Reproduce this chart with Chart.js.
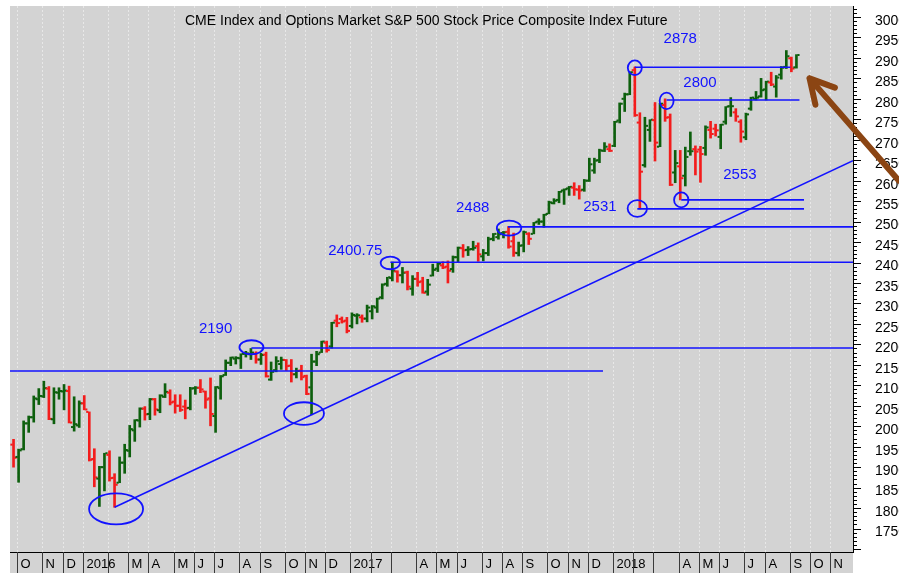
<!DOCTYPE html>
<html>
<head>
  <title>S&amp;P 500 Index Future - weekly</title>
  <script src="https://cdn.jsdelivr.net/npm/chart.js"></script>
  <style>
    body {
      margin: 0;
      padding: 0;
      background: #fff;
      overflow: hidden;
    }
    #wrap {
      width: 899px;
      height: 573px;
    }
  </style>
</head>
<body>
  <div id="wrap"><canvas id="chart" width="899" height="573"></canvas></div>
  <script>
    // weekly bars, first bar = week ending 25 Sep 2015, last = 14 Sep 2018
    const opens = [
      1955, 1925, 1944, 2007, 2022, 2066, 2073, 2092, 2017, 2082,
      2085, 2086, 1998, 2002, 2056, 2035, 1920, 1872, 1900, 1930,
      1874, 1862, 1911, 1940, 1990, 2014, 2043, 2030, 2066, 2039,
      2072, 2082, 2060, 2050, 2048, 2045, 2093, 2094, 2085, 2068,
      2025, 2093, 2125, 2155, 2165, 2166, 2177, 2176, 2177, 2163,
      2175, 2114, 2137, 2152, 2162, 2148, 2127, 2136, 2123, 2095,
      2158, 2180, 2204, 2195, 2258, 2262, 2258, 2245, 2270, 2266,
      2263, 2281, 2290, 2315, 2348, 2362, 2378, 2369, 2376, 2336,
      2360, 2354, 2329, 2368, 2385, 2393, 2390, 2384, 2413, 2435,
      2431, 2433, 2440, 2415, 2423, 2458, 2462, 2472, 2475, 2452,
      2423, 2442, 2470, 2470, 2500, 2500, 2519, 2545, 2553, 2576,
      2581, 2583, 2578, 2578, 2600, 2625, 2650, 2673, 2677, 2685,
      2747, 2800, 2811, 2870, 2742, 2638, 2724, 2748, 2683, 2785,
      2755, 2620, 2635, 2612, 2672, 2677, 2676, 2680, 2724, 2727,
      2707, 2744, 2782, 2767, 2744, 2706, 2776, 2800, 2806, 2823,
      2840, 2830, 2859, 2878, 2899, 2877
    ];
    const highs = [
      1968, 1944, 2013, 2025, 2074, 2092, 2110, 2097, 2094, 2094,
      2102, 2098, 2072, 2062, 2075, 2035, 1945, 1902, 1934, 1940,
      1884, 1925, 1956, 2002, 2016, 2045, 2048, 2068, 2068, 2077,
      2104, 2089, 2077, 2077, 2064, 2095, 2097, 2114, 2086, 2118,
      2097, 2124, 2162, 2169, 2170, 2177, 2183, 2190, 2182, 2178,
      2181, 2157, 2170, 2169, 2163, 2163, 2142, 2149, 2125, 2176,
      2183, 2208, 2208, 2254, 2272, 2267, 2266, 2277, 2275, 2272,
      2296, 2295, 2313, 2348, 2364, 2401, 2380, 2388, 2379, 2368,
      2376, 2364, 2359, 2396, 2399, 2402, 2404, 2416, 2438, 2444,
      2439, 2452, 2448, 2432, 2462, 2471, 2482, 2476, 2488, 2472,
      2450, 2477, 2473, 2498, 2507, 2518, 2550, 2556, 2574, 2580,
      2586, 2595, 2588, 2603, 2655, 2655, 2677, 2693, 2690, 2745,
      2790, 2814, 2866, 2878, 2766, 2755, 2749, 2791, 2789, 2800,
      2763, 2674, 2674, 2682, 2719, 2685, 2684, 2734, 2745, 2738,
      2738, 2781, 2803, 2776, 2749, 2765, 2804, 2818, 2850, 2843,
      2865, 2857, 2879, 2918, 2902, 2908
    ];
    const lows = [
      1900, 1863, 1942, 1985, 2010, 2053, 2070, 2016, 2006, 2066,
      2040, 2008, 1988, 1997, 2040, 1915, 1852, 1804, 1842, 1866,
      1802, 1862, 1885, 1925, 1963, 1998, 2015, 2016, 2027, 2033,
      2070, 2052, 2032, 2036, 2018, 2040, 2078, 2082, 2044, 2001,
      1985, 2066, 2124, 2148, 2152, 2141, 2169, 2163, 2154, 2151,
      2120, 2112, 2133, 2139, 2136, 2108, 2118, 2113, 2077, 2028,
      2148, 2180, 2181, 2191, 2243, 2252, 2228, 2240, 2250, 2254,
      2255, 2262, 2278, 2311, 2342, 2355, 2352, 2350, 2333, 2320,
      2342, 2325, 2320, 2367, 2378, 2385, 2350, 2376, 2400, 2413,
      2417, 2430, 2403, 2404, 2417, 2453, 2457, 2460, 2435, 2415,
      2416, 2426, 2444, 2470, 2493, 2486, 2519, 2543, 2546, 2542,
      2564, 2564, 2555, 2574, 2598, 2618, 2644, 2671, 2671, 2683,
      2741, 2769, 2810, 2757, 2531, 2633, 2696, 2648, 2683, 2745,
      2588, 2595, 2553, 2587, 2662, 2614, 2596, 2662, 2704, 2709,
      2678, 2738, 2757, 2745, 2694, 2700, 2772, 2797, 2804, 2797,
      2832, 2804, 2848, 2874, 2866, 2875
    ];
    const closes = [
      1923, 1941, 2007, 2022, 2068, 2074, 2093, 2018, 2083, 2086,
      2087, 2009, 2005, 2056, 2041, 1918, 1875, 1900, 1934, 1873,
      1857, 1911, 1942, 1993, 2015, 2043, 2029, 2066, 2041, 2075,
      2084, 2058, 2050, 2040, 2044, 2092, 2094, 2090, 2065, 2030,
      2096, 2122, 2155, 2168, 2167, 2177, 2178, 2180, 2163, 2174,
      2122, 2133, 2159, 2162, 2147, 2127, 2135, 2120, 2079, 2158,
      2176, 2207, 2186, 2253, 2252, 2256, 2233, 2272, 2271, 2263,
      2290, 2293, 2312, 2346, 2364, 2380, 2369, 2375, 2341, 2360,
      2352, 2326, 2346, 2382, 2397, 2388, 2380, 2413, 2436, 2430,
      2432, 2436, 2420, 2423, 2457, 2470, 2469, 2474, 2439, 2424,
      2441, 2474, 2458, 2498, 2500, 2517, 2547, 2551, 2573, 2579,
      2585, 2579, 2576, 2600, 2640, 2649, 2674, 2683, 2673, 2744,
      2788, 2811, 2865, 2760, 2622, 2734, 2749, 2693, 2788, 2754,
      2590, 2643, 2606, 2658, 2672, 2671, 2665, 2730, 2714, 2723,
      2737, 2781, 2782, 2757, 2720, 2762, 2803, 2803, 2821, 2842,
      2835, 2852, 2876, 2904, 2874, 2907
    ];

    // first bar of each month (bar index) and its label
    const monthStart = [1, 6, 10, 14, 19, 23, 27, 32, 36, 40, 45, 49, 54, 58, 62,
      67, 71, 75, 80, 84, 88, 93, 97, 101, 106, 110, 114,
      119, 123, 127, 132, 136, 140, 145, 149, 154, 158, 162];
    const monthLabels = ['O', 'N', 'D', '2016', '', 'M', 'A', 'M', 'J', 'J', 'A', 'S', 'O', 'N', 'D',
      '2017', '', '', 'A', 'M', 'J', 'J', 'A', 'S', 'O', 'N', 'D',
      '2018', '', '', 'A', 'M', 'J', 'J', 'A', 'S', 'O', 'N'];
    const yTickValues = [1750, 1800, 1850, 1900, 1950, 2000, 2050, 2100, 2150, 2200, 2250, 2300, 2350,
      2400, 2450, 2500, 2550, 2600, 2650, 2700, 2750, 2800, 2850, 2900, 2950, 3000];

    // hand drawn notes on the chart
    const levelValues = [2135, 2191, 2400.75, 2487, 2877, 2797, 2553, 2531];
    const levelFrom = [-0.7, 47.1, 74.6, 97.9, 123, 129.3, 132.2, 123.5];
    const levelTo = [116.7, 166.2, 166.2, 166.2, 153.8, 155.6, 156.5, 156.5];
    const trendX = [20, 166.2];
    const trendY = [1802, 2649];
    const ringX = [20.3, 57.5, 47.1, 74.6, 98.1, 123, 129.3, 132.2, 123.5];
    const ringY = [1798, 2031, 2193, 2399, 2484, 2876, 2795, 2553, 2532];
    const noteText = ['2878', '2800', '2553', '2531', '2488', '2400.75', '2190'];
    const noteX = [128.7, 132.6, 140.5, 112.8, 87.6, 62.3, 36.7];
    const noteY = [2946, 2839, 2615, 2537, 2534, 2429, 2239];
    const arrowTip = [157.6, 2850];
    const arrowTail = [175.3, 2600];

    const TITLE = 'CME Index and Options Market S&P 500 Stock Price Composite Index Future';
    const GREEN = '#0d5f0d';
    const RED = '#f31c1c';
    const BLUE = '#1212ff';
    const BROWN = '#8b4513';
    const FONT = '"Liberation Sans", Arial, sans-serif';
    const ringW = [27, 20, 12, 9.7, 12.2, 7, 7, 7.2, 9.7];
    const ringH = [15.5, 11.3, 7, 6.3, 7.5, 7.3, 8.3, 7.5, 8.3];

    const idx = opens.map((o, i) => i);
    const barColors = idx.map(i => closes[i] >= opens[i] ? GREEN : RED);

    const levelSets = levelValues.map((v, k) => ({
      type: 'line',
      data: [{ x: levelFrom[k], y: v }, { x: levelTo[k], y: v }],
      borderColor: BLUE,
      borderWidth: 1.6,
      pointRadius: 0,
      fill: false
    }));

    const frame = {
      id: 'frame',
      beforeDraw(chart) {
        const { ctx, chartArea: a, scales: { x } } = chart;
        ctx.save();
        ctx.fillStyle = '#ffffff';
        ctx.fillRect(0, 0, chart.width, chart.height);
        ctx.fillStyle = '#d3d3d3';
        ctx.fillRect(a.left, a.top, a.right - a.left, chart.height - a.top);
        // dotted month grid
        ctx.strokeStyle = '#e8e8e8';
        ctx.lineWidth = 1;
        ctx.setLineDash([2, 2]);
        monthStart.forEach(m => {
          const px = Math.round(x.getPixelForValue(m - 0.3)) + 0.5;
          ctx.beginPath();
          ctx.moveTo(px, a.top);
          ctx.lineTo(px, a.bottom);
          ctx.stroke();
        });
        ctx.setLineDash([]);
        ctx.fillStyle = '#000';
        ctx.font = '14px ' + FONT;
        ctx.textBaseline = 'middle';
        ctx.fillText(TITLE, 185, 21);
        ctx.restore();
      },
      afterDatasetsDraw(chart) {
        const { ctx, chartArea: a, scales: { x, y } } = chart;
        ctx.save();
        ctx.beginPath();
        ctx.rect(a.left, a.top, a.right - a.left, a.bottom - a.top);
        ctx.clip();
        ctx.strokeStyle = BLUE;
        ctx.lineWidth = 1.8;
        ringX.forEach((rx, k) => {
          ctx.beginPath();
          ctx.ellipse(x.getPixelForValue(rx), y.getPixelForValue(ringY[k]), ringW[k], ringH[k], 0, 0, Math.PI * 2);
          ctx.stroke();
        });
        ctx.fillStyle = BLUE;
        ctx.font = '15px ' + FONT;
        ctx.textBaseline = 'middle';
        noteText.forEach((t, k) => {
          ctx.fillText(t, x.getPixelForValue(noteX[k]), y.getPixelForValue(noteY[k]));
        });
        ctx.restore();
      },
      afterDraw(chart) {
        const { ctx, chartArea: a, scales: { x, y } } = chart;
        ctx.save();
        // right price axis
        ctx.strokeStyle = '#000';
        ctx.lineWidth = 1;
        ctx.beginPath();
        ctx.moveTo(a.right + 0.5, a.top);
        ctx.lineTo(a.right + 0.5, a.bottom + 1);
        for (let v = 1700; v <= 3020; v += 10) {
          const py = Math.round(y.getPixelForValue(v)) + 0.5;
          ctx.moveTo(a.right, py);
          ctx.lineTo(a.right + (v % 50 === 0 ? 8 : 4), py);
        }
        ctx.stroke();
        ctx.fillStyle = '#000';
        ctx.font = '14px ' + FONT;
        ctx.textBaseline = 'middle';
        yTickValues.forEach(v => {
          ctx.fillText(String(v), a.right + 22, y.getPixelForValue(v) + 4);
        });
        // month strip under the plot
        ctx.beginPath();
        ctx.moveTo(a.left, a.bottom + 0.5);
        ctx.lineTo(a.right, a.bottom + 0.5);
        ctx.stroke();
        ctx.strokeStyle = '#3a3a3a';
        ctx.font = '13px ' + FONT;
        monthStart.forEach((m, k) => {
          const px = Math.round(x.getPixelForValue(m - 0.3)) + 0.5;
          ctx.beginPath();
          ctx.moveTo(px, a.bottom);
          ctx.lineTo(px, chart.height);
          ctx.stroke();
          if (monthLabels[k]) ctx.fillText(monthLabels[k], px + 3, a.bottom + 12);
        });
        // brown arrow
        const tx = x.getPixelForValue(arrowTip[0]), ty = y.getPixelForValue(arrowTip[1]);
        const ex = x.getPixelForValue(arrowTail[0]), ey = y.getPixelForValue(arrowTail[1]);
        const ang = Math.atan2(ey - ty, ex - tx);
        ctx.strokeStyle = BROWN;
        ctx.lineWidth = 6;
        ctx.lineCap = 'round';
        ctx.lineJoin = 'round';
        ctx.beginPath();
        ctx.moveTo(ex, ey);
        ctx.lineTo(tx, ty);
        ctx.moveTo(tx + 27 * Math.cos(ang - 0.5), ty + 27 * Math.sin(ang - 0.5));
        ctx.lineTo(tx, ty);
        ctx.lineTo(tx + 27 * Math.cos(ang + 0.5), ty + 27 * Math.sin(ang + 0.5));
        ctx.stroke();
        ctx.restore();
      }
    };

    const ctx = document.getElementById('chart').getContext('2d');
    new Chart(ctx, {
      type: 'scatter',
      data: {
        datasets: [
          ...levelSets,
          {
            type: 'line',
            data: [{ x: trendX[0], y: trendY[0] }, { x: trendX[1], y: trendY[1] }],
            borderColor: BLUE,
            borderWidth: 1.6,
            pointRadius: 0,
            fill: false
          },
          {
            type: 'scatter',
            data: idx.map(i => ({ x: i - 0.4, y: opens[i] })),
            pointStyle: 'line',
            pointRadius: 1.1,
            pointBorderWidth: 2,
            pointBorderColor: barColors,
            pointBackgroundColor: barColors
          },
          {
            type: 'scatter',
            data: idx.map(i => ({ x: i + 0.4, y: closes[i] })),
            pointStyle: 'line',
            pointRadius: 1.1,
            pointBorderWidth: 2,
            pointBorderColor: barColors,
            pointBackgroundColor: barColors
          },
          {
            type: 'bar',
            data: idx.map(i => ({ x: i, y: [lows[i], highs[i]] })),
            backgroundColor: barColors,
            borderWidth: 0,
            barThickness: 2
          }
        ]
      },
      options: {
        responsive: false,
        animation: false,
        events: [],
        layout: { padding: { left: 10, right: 46, top: 5, bottom: 21 } },
        scales: {
          x: { type: 'linear', min: -0.7, max: 166.2, offset: false, display: false },
          y: { type: 'linear', min: 1692.7, max: 3026.8, display: false }
        },
        plugins: {
          legend: { display: false },
          tooltip: { enabled: false }
        }
      },
      plugins: [frame]
    });
  </script>
</body>
</html>
